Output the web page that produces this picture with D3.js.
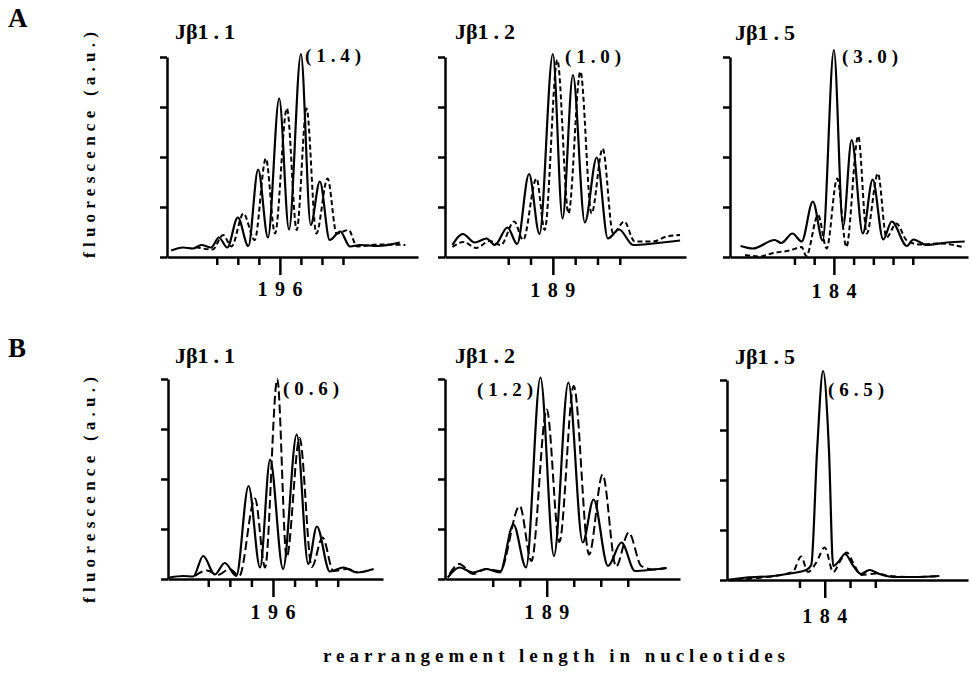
<!DOCTYPE html>
<html>
<head>
<meta charset="utf-8">
<style>
  body { margin: 0; background: #fff; }
  svg text { font-family: 'Liberation Serif', 'DejaVu Serif', serif; font-weight: bold; fill: #000; }
  .axis path, .axis line { stroke: #000; stroke-width: 2.5; }
</style>
</head>
<body>
<div id="chart"></div>
<script src="https://d3js.org/d3.v7.min.js"></script>
<script>
  // Panel titles, peak ratio notes, labelled tick on each x axis
  const titles = ['Jβ1.1', 'Jβ1.2', 'Jβ1.5', 'Jβ1.1', 'Jβ1.2', 'Jβ1.5'];
  const notes = ['(1.4)', '(1.0)', '(3.0)', '(0.6)', '(1.2)', '(6.5)'];
  const majorTicks = [196, 189, 184, 196, 189, 184];
  const yTicks = [0, 1, 2, 3, 4];

  // x ticks every 3 nucleotides (in-frame lengths)
  const xTicks = [
    [187, 190, 193, 196, 199, 202, 205],
    [183, 186, 189, 192, 195, 198],
    [178, 181, 184, 187, 190, 193, 196],
    [187, 190, 193, 196, 199, 202, 205],
    [183, 186, 189, 192, 195, 198],
    [181, 184, 187, 190]
  ];
  const xDomains = [
    [179.9, 215.7], [174.5, 206.9], [168.2, 204.4],
    [181.4, 211.3], [177.7, 203.8], [172.4, 201.0]
  ];

  // traces: [length (nt), fluorescence]
  const solidA1 = [[180.5,.13],[182.2,.19],[183.6,.17],[184.8,.24],[186.2,.19],[187.3,.39],[188.5,.19],[190,.79],[191.5,.22],[192.9,1.75],[194.3,.39],[195.9,3.17],[197.3,.55],[199,4.06],[200.4,.64],[201.7,1.51],[203.1,.34],[204.6,.51],[206,.21],[207.4,.24],[210,.22],[213.1,.29]];
  const dashA1 = [[184,.2],[186.4,.15],[187.9,.44],[189.1,.21],[190.8,.87],[192.4,.34],[194,1.97],[195.3,.47],[197,2.97],[198.4,.54],[199.8,2.97],[201.2,.47],[202.8,1.57],[204.1,.47],[205.8,.54],[207,.21],[210,.25],[213.9,.24]];

  const solidA2 = [[175.5,.24],[176.9,.46],[178.5,.29],[180.1,.37],[181.2,.24],[182.9,.59],[184.2,.26],[185.8,1.66],[187.2,.46],[189,4.06],[190.3,.77],[191.7,3.64],[193.3,.69],[194.9,1.99],[196.4,.37],[197.9,.55],[199.8,.24],[202.5,.27],[206.1,.33]];
  const dashA2 = [[175.5,.2],[177,.3],[178.7,.18],[180.5,.32],[182,.24],[183.8,.71],[185,.34],[186.8,1.57],[187.9,.54],[189.6,3.94],[191.1,.87],[192.7,3.71],[194.2,.87],[195.7,2.17],[197.1,.47],[198.6,.71],[200,.31],[202.5,.31],[204.3,.41],[206.1,.44]];

  const solidA3 = [[169.8,.22],[171.7,.17],[175,.34],[176,.28],[177.7,.47],[179.1,.31],[180.8,1.11],[182.3,.33],[184,4.14],[185.4,.61],[186.7,2.34],[188.4,.47],[189.9,1.55],[191.5,.35],[192.8,.71],[195.1,.22],[196.1,.35],[198.1,.24],[201.2,.29],[203.9,.31]];
  const dashA3 = [[170.5,.04],[172.7,.01],[174.8,.08],[177.3,.13],[179.1,.2],[179.8,.02],[181.6,.84],[182.9,.17],[184.5,1.57],[185.9,.2],[187.7,2.42],[189,.47],[190.7,1.67],[192,.39],[193.5,.67],[195.1,.33],[197.1,.25],[200.1,.27],[203.9,.19]];

  const solidB1 = [[181.6,.03],[183.5,.06],[184.9,.05],[186.3,.46],[187.9,.09],[189.3,.32],[190.9,.06],[192.6,1.86],[194.2,.23],[195.6,2.39],[197.4,.2],[199.3,2.89],[200.9,.3],[202.1,1.05],[203.9,.15],[205.8,.23],[207.7,.13],[210,.2]];
  const dashB1 = [[185.1,.06],[186.8,.17],[188.3,.08],[190,.2],[191.3,.06],[193.5,1.61],[194.9,.23],[196.6,4.0],[197.9,.43],[199.7,2.82],[201.4,.24],[202.9,.83],[204.4,.16],[206.3,.2],[207.7,.13]];

  const solidB2 = [[178,.03],[179.3,.23],[180.8,.13],[182.3,.2],[183.8,.13],[185.3,1.09],[186.7,.23],[188.3,4.03],[189.8,.46],[191.4,3.93],[193,.73],[194.2,1.59],[195.8,.26],[197.3,.73],[198.8,.16],[200.8,.19],[202.3,.22]];
  const dashB2 = [[178.2,.1],[179.3,.3],[180.8,.1],[182.3,.2],[183.8,.16],[186,1.46],[187.3,.36],[189,3.39],[190.4,.74],[192,3.86],[193.7,.49],[195.2,2.09],[196.7,.25],[198.1,.93],[199.5,.26],[200.8,.19],[202.3,.22]];

  const solidB3 = [[172.3,0],[174.7,.05],[177.9,.08],[179.5,.12],[181.8,.2],[182.4,.3],[183.1,2.62],[183.8,4.18],[184.5,2.6],[185,.28],[185.7,.38],[186.4,.52],[187.4,.28],[188.3,.12],[189.3,.2],[190.5,.12],[192.1,.06],[194.5,.06],[197.6,.08]];
  const dashB3 = [[172.3,0],[176,.04],[180.2,.16],[181.2,.47],[182,.16],[183,.35],[184,.65],[185,.16],[185.9,.4],[186.6,.55],[187.5,.3],[188.3,.1],[190.1,.13],[191.7,.08],[194.5,.06],[197.6,.08]];

  const solids = [solidA1, solidA2, solidA3, solidB1, solidB2, solidB3];
  const dashes = [dashA1, dashA2, dashA3, dashB1, dashB2, dashB3];

  // Layout of the six panels (pixels)
  const layout = [
    { left: 167, right: 418, top: 57, bottom: 257, titleX: 175, titleY: 39, noteX: 305, noteY: 62, labelY: 296, dash: '5,3' },
    { left: 445, right: 686, top: 57, bottom: 257, titleX: 455, titleY: 39, noteX: 565, noteY: 63, labelY: 297, dash: '5,3' },
    { left: 730, right: 968, top: 57, bottom: 257, titleX: 735, titleY: 40, noteX: 842, noteY: 63, labelY: 298, dash: '5,3' },
    { left: 168, right: 383, top: 379, bottom: 579, titleX: 175, titleY: 363, noteX: 283, noteY: 395, labelY: 619, dash: '9,4' },
    { left: 445, right: 680, top: 379, bottom: 579, titleX: 455, titleY: 363, noteX: 477, noteY: 396, labelY: 619, dash: '9,4' },
    { left: 727, right: 968, top: 380, bottom: 580, titleX: 735, titleY: 364, noteX: 828, noteY: 396, labelY: 623, dash: '6,4' }
  ];

  const width = 970;
  const height = 673;

  const svg = d3.select('#chart')
    .append('svg')
    .attr('width', width)
    .attr('height', height);

  svg.append('rect').attr('width', width).attr('height', height).attr('fill', '#fff');

  layout.forEach((p, i) => {
    const x = d3.scaleLinear().domain(xDomains[i]).range([p.left, p.right]);
    const y = d3.scaleLinear().domain([0, 4]).range([p.bottom, p.top]);

    const line = d3.line()
      .x(d => x(d[0]))
      .y(d => y(d[1]))
      .curve(d3.curveMonotoneX);

    svg.append('path')
      .datum(dashes[i])
      .attr('fill', 'none')
      .attr('stroke', '#000')
      .attr('stroke-width', 2)
      .attr('stroke-dasharray', p.dash)
      .attr('d', line);

    svg.append('path')
      .datum(solids[i])
      .attr('fill', 'none')
      .attr('stroke', '#000')
      .attr('stroke-width', 2.2)
      .attr('d', line);

    // y axis, no tick labels
    svg.append('g')
      .attr('class', 'axis')
      .attr('transform', `translate(${p.left}, 0)`)
      .call(d3.axisLeft(y).tickValues(yTicks).tickSize(7).tickSizeOuter(0).tickFormat(''));

    // x axis, the labelled tick is longer
    const xAxisGroup = svg.append('g')
      .attr('class', 'axis')
      .attr('transform', `translate(0, ${p.bottom})`)
      .call(d3.axisBottom(x).tickValues(xTicks[i]).tickSize(8).tickSizeOuter(0).tickFormat(''));
    xAxisGroup.selectAll('.tick line')
      .attr('y2', d => d === majorTicks[i] ? 18 : 8);

    svg.append('text')
      .attr('x', x(majorTicks[i]))
      .attr('y', p.labelY)
      .attr('text-anchor', 'middle')
      .attr('font-size', 20)
      .attr('textLength', 45)
      .attr('lengthAdjust', 'spacing')
      .text(majorTicks[i]);

    // title like "Jβ1 . 1"
    const parts = titles[i].split('.');
    const t = svg.append('text')
      .attr('x', p.titleX)
      .attr('y', p.titleY)
      .attr('font-size', 22);
    t.append('tspan').text(parts[0]);
    t.append('tspan').attr('dx', 5).text('.');
    t.append('tspan').attr('dx', 5).text(parts[1]);

    svg.append('text')
      .attr('x', p.noteX)
      .attr('y', p.noteY)
      .attr('font-size', 19)
      .attr('textLength', 56)
      .attr('lengthAdjust', 'spacing')
      .text(notes[i]);
  });

  // row letters
  svg.append('text').attr('x', 8).attr('y', 27).attr('font-size', 27).text('A');
  svg.append('text').attr('x', 8).attr('y', 357).attr('font-size', 27).text('B');

  // y axis labels
  [145, 490].forEach(cy => {
    svg.append('text')
      .attr('transform', 'rotate(-90)')
      .attr('x', -cy)
      .attr('y', 95)
      .attr('text-anchor', 'middle')
      .attr('font-size', 17)
      .attr('textLength', 226)
      .attr('lengthAdjust', 'spacing')
      .text('fluorescence (a.u.)');
  });

  // x axis title
  svg.append('text')
    .attr('x', 554)
    .attr('y', 662)
    .attr('text-anchor', 'middle')
    .attr('font-size', 19)
    .attr('textLength', 462)
    .attr('lengthAdjust', 'spacing')
    .text('rearrangement length in nucleotides');
</script>
</body>
</html>
